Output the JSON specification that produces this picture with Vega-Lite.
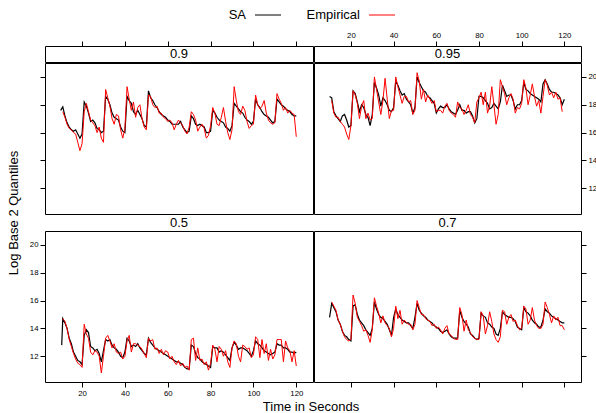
{
"$schema": "https://vega.github.io/schema/vega-lite/v6.json",
"padding": {"left": 0, "top": 0, "right": 0, "bottom": 0},
"config": {
  "font": "Liberation Sans",
  "view": {"stroke": "black", "strokeWidth": 1},
  "axis": {"domain": false, "grid": false, "tickColor": "black", "tickSize": 5, "labelFontSize": 7.8, "labelColor": "black", "labelPadding": 2},
  "concat": {"spacing": 0},
  "line": {"strokeWidth": 1}
},
"datasets": {"d": [
{"q":"0.9","t":10,"SA":17.6},{"q":"0.9","t":11,"SA":17.85,"Empirical":17.5},{"q":"0.9","t":12,"SA":17.2,"Empirical":17.1},{"q":"0.9","t":13,"SA":16.7,"Empirical":16.6},{"q":"0.9","t":14,"SA":16.4,"Empirical":16.3},{"q":"0.9","t":15,"SA":16.2,"Empirical":16.2},{"q":"0.9","t":16,"SA":16.1,"Empirical":16.0},{"q":"0.9","t":17,"SA":16.2,"Empirical":15.9},{"q":"0.9","t":18,"SA":15.9,"Empirical":15.3},{"q":"0.9","t":19,"SA":15.6,"Empirical":14.7},{"q":"0.9","t":20,"SA":15.9,"Empirical":15.2},
{"q":"0.9","t":21,"SA":18.2,"Empirical":17.5},{"q":"0.9","t":22,"SA":17.9,"Empirical":18.1},{"q":"0.9","t":23,"SA":17.4,"Empirical":17.5},{"q":"0.9","t":24,"SA":16.8,"Empirical":16.9},{"q":"0.9","t":25,"SA":16.9,"Empirical":16.7},{"q":"0.9","t":26,"SA":16.7,"Empirical":16.5},{"q":"0.9","t":27,"SA":16.3,"Empirical":16.0},{"q":"0.9","t":28,"SA":16.2,"Empirical":16.4},{"q":"0.9","t":29,"SA":16.0,"Empirical":15.6},{"q":"0.9","t":30,"SA":16.1,"Empirical":15.3},
{"q":"0.9","t":31,"SA":18.6,"Empirical":19.1},{"q":"0.9","t":32,"SA":18.4,"Empirical":18.5},{"q":"0.9","t":33,"SA":18.0,"Empirical":17.9},{"q":"0.9","t":34,"SA":17.4,"Empirical":17.0},{"q":"0.9","t":35,"SA":17.1,"Empirical":16.6},{"q":"0.9","t":36,"SA":17.0,"Empirical":17.3},{"q":"0.9","t":37,"SA":16.9,"Empirical":17.2},{"q":"0.9","t":38,"SA":16.4,"Empirical":16.2},{"q":"0.9","t":39,"SA":16.1,"Empirical":15.6},{"q":"0.9","t":40,"SA":16.0,"Empirical":16.3},
{"q":"0.9","t":41,"SA":18.6,"Empirical":19.3},{"q":"0.9","t":42,"SA":18.3,"Empirical":18.4},{"q":"0.9","t":43,"SA":18.1,"Empirical":17.6},{"q":"0.9","t":44,"SA":17.5,"Empirical":18.2},{"q":"0.9","t":45,"SA":17.3,"Empirical":17.1},{"q":"0.9","t":46,"SA":17.6,"Empirical":17.8},{"q":"0.9","t":47,"SA":17.3,"Empirical":18.0},{"q":"0.9","t":48,"SA":17.0,"Empirical":17.0},{"q":"0.9","t":49,"SA":16.5,"Empirical":16.4},{"q":"0.9","t":50,"SA":16.4,"Empirical":16.2},
{"q":"0.9","t":51,"SA":19.0,"Empirical":18.7},{"q":"0.9","t":52,"SA":18.5,"Empirical":18.6},{"q":"0.9","t":53,"SA":18.3,"Empirical":18.0},{"q":"0.9","t":54,"SA":18.0,"Empirical":17.8},{"q":"0.9","t":55,"SA":17.8,"Empirical":17.9},{"q":"0.9","t":56,"SA":17.5,"Empirical":17.4},{"q":"0.9","t":57,"SA":17.3,"Empirical":17.4},{"q":"0.9","t":58,"SA":17.2,"Empirical":17.1},{"q":"0.9","t":59,"SA":17.1,"Empirical":17.0},{"q":"0.9","t":60,"SA":16.9,"Empirical":16.8},
{"q":"0.9","t":61,"SA":16.8,"Empirical":16.9},{"q":"0.9","t":62,"SA":16.6,"Empirical":16.7},{"q":"0.9","t":63,"SA":16.6,"Empirical":16.2},{"q":"0.9","t":64,"SA":16.6,"Empirical":16.6},{"q":"0.9","t":65,"SA":16.6,"Empirical":16.9},{"q":"0.9","t":66,"SA":16.8,"Empirical":16.7},{"q":"0.9","t":67,"SA":16.4,"Empirical":16.5},{"q":"0.9","t":68,"SA":16.2,"Empirical":16.1},{"q":"0.9","t":69,"SA":16.0,"Empirical":15.9},{"q":"0.9","t":70,"SA":16.1,"Empirical":16.4},
{"q":"0.9","t":71,"SA":17.2,"Empirical":17.5},{"q":"0.9","t":72,"SA":17.0,"Empirical":17.3},{"q":"0.9","t":73,"SA":16.6,"Empirical":16.9},{"q":"0.9","t":74,"SA":16.5,"Empirical":16.1},{"q":"0.9","t":75,"SA":16.6,"Empirical":16.4},{"q":"0.9","t":76,"SA":16.5,"Empirical":16.6},{"q":"0.9","t":77,"SA":16.4,"Empirical":16.3},{"q":"0.9","t":78,"SA":16.0,"Empirical":15.6},{"q":"0.9","t":79,"SA":16.0,"Empirical":15.8},{"q":"0.9","t":80,"SA":16.1,"Empirical":16.5},
{"q":"0.9","t":81,"SA":17.6,"Empirical":17.8},{"q":"0.9","t":82,"SA":17.4,"Empirical":17.4},{"q":"0.9","t":83,"SA":17.1,"Empirical":16.6},{"q":"0.9","t":84,"SA":16.9,"Empirical":16.5},{"q":"0.9","t":85,"SA":16.8,"Empirical":17.1},{"q":"0.9","t":86,"SA":16.7,"Empirical":17.8},{"q":"0.9","t":87,"SA":16.4,"Empirical":16.8},{"q":"0.9","t":88,"SA":16.3,"Empirical":16.0},{"q":"0.9","t":89,"SA":16.1,"Empirical":15.5},{"q":"0.9","t":90,"SA":16.5,"Empirical":16.2},
{"q":"0.9","t":91,"SA":18.1,"Empirical":19.3},{"q":"0.9","t":92,"SA":17.9,"Empirical":18.3},{"q":"0.9","t":93,"SA":17.7,"Empirical":17.5},{"q":"0.9","t":94,"SA":17.5,"Empirical":17.3},{"q":"0.9","t":95,"SA":17.4,"Empirical":17.9},{"q":"0.9","t":96,"SA":17.1,"Empirical":17.6},{"q":"0.9","t":97,"SA":16.9,"Empirical":16.8},{"q":"0.9","t":98,"SA":16.8,"Empirical":16.3},{"q":"0.9","t":99,"SA":16.6,"Empirical":16.5},{"q":"0.9","t":100,"SA":16.8,"Empirical":16.6},
{"q":"0.9","t":101,"SA":18.4,"Empirical":18.7},{"q":"0.9","t":102,"SA":18.0,"Empirical":18.0},{"q":"0.9","t":103,"SA":17.8,"Empirical":17.7},{"q":"0.9","t":104,"SA":17.5,"Empirical":17.9},{"q":"0.9","t":105,"SA":17.3,"Empirical":18.3},{"q":"0.9","t":106,"SA":17.2,"Empirical":17.4},{"q":"0.9","t":107,"SA":17.1,"Empirical":16.9},{"q":"0.9","t":108,"SA":16.9,"Empirical":16.7},{"q":"0.9","t":109,"SA":16.7,"Empirical":16.6},{"q":"0.9","t":110,"SA":16.8,"Empirical":16.7},
{"q":"0.9","t":111,"SA":18.4,"Empirical":18.8},{"q":"0.9","t":112,"SA":18.2,"Empirical":18.4},{"q":"0.9","t":113,"SA":18.0,"Empirical":18.1},{"q":"0.9","t":114,"SA":17.9,"Empirical":17.6},{"q":"0.9","t":115,"SA":17.7,"Empirical":17.8},{"q":"0.9","t":116,"SA":17.6,"Empirical":17.4},{"q":"0.9","t":117,"SA":17.5,"Empirical":17.6},{"q":"0.9","t":118,"SA":17.3,"Empirical":17.4},{"q":"0.9","t":119,"SA":17.2,"Empirical":17.3},{"q":"0.9","t":120,"SA":17.2,"Empirical":15.7},
{"q":"0.95","t":10,"SA":18.6},{"q":"0.95","t":11,"SA":18.5,"Empirical":18.3},{"q":"0.95","t":12,"SA":17.5,"Empirical":17.4},{"q":"0.95","t":13,"SA":17.2,"Empirical":17.1},{"q":"0.95","t":14,"SA":17.0,"Empirical":17.1},{"q":"0.95","t":15,"SA":16.8,"Empirical":16.8},{"q":"0.95","t":16,"SA":17.2,"Empirical":16.6},{"q":"0.95","t":17,"SA":17.3,"Empirical":16.4},{"q":"0.95","t":18,"SA":16.9,"Empirical":15.9},{"q":"0.95","t":19,"SA":16.4,"Empirical":15.5},{"q":"0.95","t":20,"SA":16.5,"Empirical":16.5},
{"q":"0.95","t":21,"SA":19.0,"Empirical":19.0},{"q":"0.95","t":22,"SA":18.8,"Empirical":18.7},{"q":"0.95","t":23,"SA":18.2,"Empirical":18.1},{"q":"0.95","t":24,"SA":17.5,"Empirical":17.0},{"q":"0.95","t":25,"SA":18.0,"Empirical":17.9},{"q":"0.95","t":26,"SA":17.8,"Empirical":18.3},{"q":"0.95","t":27,"SA":17.3,"Empirical":17.0},{"q":"0.95","t":28,"SA":17.1,"Empirical":17.4},{"q":"0.95","t":29,"SA":16.5,"Empirical":16.9},{"q":"0.95","t":30,"SA":17.3,"Empirical":17.0},
{"q":"0.95","t":31,"SA":19.6,"Empirical":20.0},{"q":"0.95","t":32,"SA":19.2,"Empirical":19.1},{"q":"0.95","t":33,"SA":18.7,"Empirical":18.2},{"q":"0.95","t":34,"SA":17.9,"Empirical":17.3},{"q":"0.95","t":35,"SA":18.5,"Empirical":18.3},{"q":"0.95","t":36,"SA":18.3,"Empirical":19.9},{"q":"0.95","t":37,"SA":18.0,"Empirical":18.4},{"q":"0.95","t":38,"SA":17.6,"Empirical":17.0},{"q":"0.95","t":39,"SA":17.5,"Empirical":17.6},{"q":"0.95","t":40,"SA":17.8,"Empirical":17.6},
{"q":"0.95","t":41,"SA":19.7,"Empirical":20.0},{"q":"0.95","t":42,"SA":19.4,"Empirical":19.3},{"q":"0.95","t":43,"SA":19.0,"Empirical":18.7},{"q":"0.95","t":44,"SA":18.7,"Empirical":18.1},{"q":"0.95","t":45,"SA":18.8,"Empirical":18.6},{"q":"0.95","t":46,"SA":18.4,"Empirical":18.6},{"q":"0.95","t":47,"SA":18.2,"Empirical":18.2},{"q":"0.95","t":48,"SA":18.0,"Empirical":18.3},{"q":"0.95","t":49,"SA":17.4,"Empirical":17.3},{"q":"0.95","t":50,"SA":17.8,"Empirical":17.6},
{"q":"0.95","t":51,"SA":20.0,"Empirical":20.3},{"q":"0.95","t":52,"SA":19.6,"Empirical":19.7},{"q":"0.95","t":53,"SA":19.3,"Empirical":18.4},{"q":"0.95","t":54,"SA":19.0,"Empirical":19.1},{"q":"0.95","t":55,"SA":18.9,"Empirical":18.2},{"q":"0.95","t":56,"SA":18.6,"Empirical":18.7},{"q":"0.95","t":57,"SA":18.5,"Empirical":18.4},{"q":"0.95","t":58,"SA":18.3,"Empirical":18.1},{"q":"0.95","t":59,"SA":18.1,"Empirical":18.3},{"q":"0.95","t":60,"SA":17.4,"Empirical":17.5},
{"q":"0.95","t":61,"SA":17.7,"Empirical":17.6},{"q":"0.95","t":62,"SA":17.9,"Empirical":17.6},{"q":"0.95","t":63,"SA":17.8,"Empirical":17.4},{"q":"0.95","t":64,"SA":17.8,"Empirical":17.9},{"q":"0.95","t":65,"SA":18.0,"Empirical":18.1},{"q":"0.95","t":66,"SA":17.7,"Empirical":17.6},{"q":"0.95","t":67,"SA":17.5,"Empirical":17.4},{"q":"0.95","t":68,"SA":17.4,"Empirical":17.3},{"q":"0.95","t":69,"SA":17.3,"Empirical":17.1},{"q":"0.95","t":70,"SA":17.6,"Empirical":18.2},
{"q":"0.95","t":71,"SA":18.0,"Empirical":17.8},{"q":"0.95","t":72,"SA":17.6,"Empirical":17.7},{"q":"0.95","t":73,"SA":17.6,"Empirical":17.3},{"q":"0.95","t":74,"SA":17.4,"Empirical":17.6},{"q":"0.95","t":75,"SA":17.5,"Empirical":18.0},{"q":"0.95","t":76,"SA":17.5,"Empirical":17.3},{"q":"0.95","t":77,"SA":17.2,"Empirical":17.1},{"q":"0.95","t":78,"SA":16.7,"Empirical":16.7},{"q":"0.95","t":79,"SA":17.0,"Empirical":18.2},{"q":"0.95","t":80,"SA":18.6,"Empirical":18.5},
{"q":"0.95","t":81,"SA":18.6,"Empirical":18.9},{"q":"0.95","t":82,"SA":18.5,"Empirical":18.0},{"q":"0.95","t":83,"SA":18.3,"Empirical":18.9},{"q":"0.95","t":84,"SA":18.1,"Empirical":17.4},{"q":"0.95","t":85,"SA":17.7,"Empirical":17.9},{"q":"0.95","t":86,"SA":17.8,"Empirical":19.3},{"q":"0.95","t":87,"SA":18.1,"Empirical":18.0},{"q":"0.95","t":88,"SA":17.9,"Empirical":16.6},{"q":"0.95","t":89,"SA":17.7,"Empirical":17.3},{"q":"0.95","t":90,"SA":18.2,"Empirical":19.8},
{"q":"0.95","t":91,"SA":19.4,"Empirical":19.3},{"q":"0.95","t":92,"SA":19.0,"Empirical":18.8},{"q":"0.95","t":93,"SA":18.6,"Empirical":18.0},{"q":"0.95","t":94,"SA":18.7,"Empirical":18.5},{"q":"0.95","t":95,"SA":18.7,"Empirical":18.8},{"q":"0.95","t":96,"SA":18.3,"Empirical":18.4},{"q":"0.95","t":97,"SA":17.7,"Empirical":17.4},{"q":"0.95","t":98,"SA":18.0,"Empirical":17.8},{"q":"0.95","t":99,"SA":18.0,"Empirical":17.7},{"q":"0.95","t":100,"SA":18.3,"Empirical":18.1},
{"q":"0.95","t":101,"SA":19.6,"Empirical":19.8},{"q":"0.95","t":102,"SA":19.1,"Empirical":19.2},{"q":"0.95","t":103,"SA":19.0,"Empirical":18.0},{"q":"0.95","t":104,"SA":18.8,"Empirical":18.7},{"q":"0.95","t":105,"SA":18.7,"Empirical":19.5},{"q":"0.95","t":106,"SA":18.6,"Empirical":18.6},{"q":"0.95","t":107,"SA":18.5,"Empirical":17.9},{"q":"0.95","t":108,"SA":18.4,"Empirical":18.3},{"q":"0.95","t":109,"SA":18.2,"Empirical":17.4},{"q":"0.95","t":110,"SA":19.5,"Empirical":18.6},
{"q":"0.95","t":111,"SA":19.8,"Empirical":19.8},{"q":"0.95","t":112,"SA":19.5,"Empirical":19.4},{"q":"0.95","t":113,"SA":19.1,"Empirical":18.7},{"q":"0.95","t":114,"SA":18.9,"Empirical":18.9},{"q":"0.95","t":115,"SA":18.9,"Empirical":18.5},{"q":"0.95","t":116,"SA":18.8,"Empirical":18.9},{"q":"0.95","t":117,"SA":18.7,"Empirical":18.4},{"q":"0.95","t":118,"SA":18.5,"Empirical":18.5},{"q":"0.95","t":119,"SA":18.0,"Empirical":17.5},{"q":"0.95","t":120,"SA":18.4},
{"q":"0.5","t":10.5,"SA":12.8},{"q":"0.5","t":11,"SA":14.7,"Empirical":14.7},{"q":"0.5","t":12,"SA":14.4,"Empirical":14.5},{"q":"0.5","t":13,"SA":14.0,"Empirical":14.0},{"q":"0.5","t":14,"SA":13.3,"Empirical":13.2},{"q":"0.5","t":15,"SA":12.9,"Empirical":12.7},{"q":"0.5","t":16,"SA":12.3,"Empirical":12.2},{"q":"0.5","t":17,"SA":12.0,"Empirical":11.8},{"q":"0.5","t":18,"SA":11.7,"Empirical":11.5},{"q":"0.5","t":19,"SA":11.6,"Empirical":11.4},{"q":"0.5","t":20,"SA":11.4,"Empirical":11.2},
{"q":"0.5","t":21,"SA":13.5,"Empirical":14.3},{"q":"0.5","t":22,"SA":13.9,"Empirical":13.6},{"q":"0.5","t":23,"SA":13.7,"Empirical":13.3},{"q":"0.5","t":24,"SA":12.7,"Empirical":12.3},{"q":"0.5","t":25,"SA":12.6,"Empirical":12.1},{"q":"0.5","t":26,"SA":12.4,"Empirical":12.4},{"q":"0.5","t":27,"SA":12.5,"Empirical":12.3},{"q":"0.5","t":28,"SA":12.2,"Empirical":12.0},{"q":"0.5","t":29,"SA":11.6,"Empirical":10.8},{"q":"0.5","t":30,"SA":12.4,"Empirical":12.0},
{"q":"0.5","t":31,"SA":13.2,"Empirical":13.3},{"q":"0.5","t":32,"SA":13.1,"Empirical":13.5},{"q":"0.5","t":33,"SA":13.2,"Empirical":13.1},{"q":"0.5","t":34,"SA":12.8,"Empirical":12.6},{"q":"0.5","t":35,"SA":12.6,"Empirical":12.9},{"q":"0.5","t":36,"SA":12.5,"Empirical":12.3},{"q":"0.5","t":37,"SA":12.3,"Empirical":12.2},{"q":"0.5","t":38,"SA":12.0,"Empirical":12.3},{"q":"0.5","t":39,"SA":11.9,"Empirical":11.8},{"q":"0.5","t":40,"SA":12.3,"Empirical":12.0},
{"q":"0.5","t":41,"SA":13.3,"Empirical":13.1},{"q":"0.5","t":42,"SA":13.1,"Empirical":13.5},{"q":"0.5","t":43,"SA":12.7,"Empirical":12.3},{"q":"0.5","t":44,"SA":12.8,"Empirical":12.9},{"q":"0.5","t":45,"SA":12.7,"Empirical":12.9},{"q":"0.5","t":46,"SA":12.9,"Empirical":12.8},{"q":"0.5","t":47,"SA":12.6,"Empirical":12.7},{"q":"0.5","t":48,"SA":12.4,"Empirical":12.5},{"q":"0.5","t":49,"SA":12.2,"Empirical":12.2},{"q":"0.5","t":50,"SA":12.1,"Empirical":11.9},
{"q":"0.5","t":51,"SA":13.3,"Empirical":13.3},{"q":"0.5","t":52,"SA":13.0,"Empirical":13.1},{"q":"0.5","t":53,"SA":12.8,"Empirical":13.2},{"q":"0.5","t":54,"SA":12.6,"Empirical":12.5},{"q":"0.5","t":55,"SA":12.5,"Empirical":12.6},{"q":"0.5","t":56,"SA":12.4,"Empirical":12.2},{"q":"0.5","t":57,"SA":12.3,"Empirical":12.5},{"q":"0.5","t":58,"SA":12.2,"Empirical":12.1},{"q":"0.5","t":59,"SA":12.1,"Empirical":12.4},{"q":"0.5","t":60,"SA":12.0,"Empirical":12.3},
{"q":"0.5","t":61,"SA":11.9,"Empirical":11.8},{"q":"0.5","t":62,"SA":11.8,"Empirical":12.0},{"q":"0.5","t":63,"SA":11.7,"Empirical":11.6},{"q":"0.5","t":64,"SA":11.6,"Empirical":11.4},{"q":"0.5","t":65,"SA":11.6,"Empirical":11.7},{"q":"0.5","t":66,"SA":11.5,"Empirical":11.3},{"q":"0.5","t":67,"SA":11.4,"Empirical":11.5},{"q":"0.5","t":68,"SA":11.2,"Empirical":11.2},{"q":"0.5","t":69,"SA":11.1,"Empirical":11.3},{"q":"0.5","t":70,"SA":11.1,"Empirical":11.0},
{"q":"0.5","t":71,"SA":12.8,"Empirical":13.2},{"q":"0.5","t":72,"SA":12.7,"Empirical":13.3},{"q":"0.5","t":73,"SA":12.2,"Empirical":11.7},{"q":"0.5","t":74,"SA":11.9,"Empirical":12.6},{"q":"0.5","t":75,"SA":11.8,"Empirical":11.7},{"q":"0.5","t":76,"SA":11.6,"Empirical":11.8},{"q":"0.5","t":77,"SA":11.5,"Empirical":11.4},{"q":"0.5","t":78,"SA":11.4,"Empirical":11.6},{"q":"0.5","t":79,"SA":11.3,"Empirical":11.0},{"q":"0.5","t":80,"SA":11.2,"Empirical":11.5},
{"q":"0.5","t":81,"SA":12.7,"Empirical":12.8},{"q":"0.5","t":82,"SA":12.6,"Empirical":12.5},{"q":"0.5","t":83,"SA":12.6,"Empirical":11.6},{"q":"0.5","t":84,"SA":12.3,"Empirical":12.7},{"q":"0.5","t":85,"SA":12.4,"Empirical":12.5},{"q":"0.5","t":86,"SA":12.3,"Empirical":12.0},{"q":"0.5","t":87,"SA":12.1,"Empirical":12.4},{"q":"0.5","t":88,"SA":11.9,"Empirical":11.6},{"q":"0.5","t":89,"SA":11.7,"Empirical":11.2},{"q":"0.5","t":90,"SA":12.6,"Empirical":12.6},
{"q":"0.5","t":91,"SA":13.0,"Empirical":13.1},{"q":"0.5","t":92,"SA":12.8,"Empirical":12.9},{"q":"0.5","t":93,"SA":12.5,"Empirical":12.0},{"q":"0.5","t":94,"SA":12.6,"Empirical":11.6},{"q":"0.5","t":95,"SA":12.6,"Empirical":12.8},{"q":"0.5","t":96,"SA":12.5,"Empirical":12.7},{"q":"0.5","t":97,"SA":12.4,"Empirical":12.5},{"q":"0.5","t":98,"SA":12.2,"Empirical":12.6},{"q":"0.5","t":99,"SA":12.0,"Empirical":11.9},{"q":"0.5","t":100,"SA":12.4,"Empirical":12.1},
{"q":"0.5","t":101,"SA":13.1,"Empirical":13.4},{"q":"0.5","t":102,"SA":12.9,"Empirical":13.2},{"q":"0.5","t":103,"SA":12.8,"Empirical":11.9},{"q":"0.5","t":104,"SA":12.6,"Empirical":13.2},{"q":"0.5","t":105,"SA":12.4,"Empirical":12.2},{"q":"0.5","t":106,"SA":12.3,"Empirical":12.9},{"q":"0.5","t":107,"SA":12.2,"Empirical":11.7},{"q":"0.5","t":108,"SA":12.1,"Empirical":12.5},{"q":"0.5","t":109,"SA":12.2,"Empirical":11.8},{"q":"0.5","t":110,"SA":12.3,"Empirical":12.1},
{"q":"0.5","t":111,"SA":12.9,"Empirical":13.2},{"q":"0.5","t":112,"SA":12.8,"Empirical":13.2},{"q":"0.5","t":113,"SA":12.8,"Empirical":13.2},{"q":"0.5","t":114,"SA":12.6,"Empirical":11.6},{"q":"0.5","t":115,"SA":12.6,"Empirical":13.1},{"q":"0.5","t":116,"SA":12.5,"Empirical":12.6},{"q":"0.5","t":117,"SA":12.3,"Empirical":12.4},{"q":"0.5","t":118,"SA":12.3,"Empirical":11.6},{"q":"0.5","t":119,"SA":12.2,"Empirical":12.4},{"q":"0.5","t":120,"SA":12.3,"Empirical":11.3},
{"q":"0.7","t":10,"SA":14.8},{"q":"0.7","t":11,"SA":15.8,"Empirical":15.9},{"q":"0.7","t":12,"SA":15.5,"Empirical":15.6},{"q":"0.7","t":13,"SA":15.2,"Empirical":15.3},{"q":"0.7","t":14,"SA":14.6,"Empirical":14.6},{"q":"0.7","t":15,"SA":14.3,"Empirical":14.3},{"q":"0.7","t":16,"SA":13.8,"Empirical":13.8},{"q":"0.7","t":17,"SA":13.5,"Empirical":13.4},{"q":"0.7","t":18,"SA":13.4,"Empirical":13.2},{"q":"0.7","t":19,"SA":13.2,"Empirical":13.1},{"q":"0.7","t":20,"SA":13.1,"Empirical":13.2},
{"q":"0.7","t":21,"SA":15.6,"Empirical":16.4},{"q":"0.7","t":22,"SA":15.7,"Empirical":15.8},{"q":"0.7","t":23,"SA":15.0,"Empirical":14.8},{"q":"0.7","t":24,"SA":14.6,"Empirical":14.5},{"q":"0.7","t":25,"SA":14.4,"Empirical":14.2},{"q":"0.7","t":26,"SA":14.2,"Empirical":13.8},{"q":"0.7","t":27,"SA":13.9,"Empirical":13.9},{"q":"0.7","t":28,"SA":13.7,"Empirical":13.5},{"q":"0.7","t":29,"SA":13.5,"Empirical":13.0},{"q":"0.7","t":30,"SA":14.0,"Empirical":13.9},
{"q":"0.7","t":31,"SA":15.9,"Empirical":16.2},{"q":"0.7","t":32,"SA":15.4,"Empirical":15.6},{"q":"0.7","t":33,"SA":15.0,"Empirical":15.1},{"q":"0.7","t":34,"SA":14.8,"Empirical":14.4},{"q":"0.7","t":35,"SA":14.7,"Empirical":14.9},{"q":"0.7","t":36,"SA":14.5,"Empirical":14.4},{"q":"0.7","t":37,"SA":14.3,"Empirical":14.2},{"q":"0.7","t":38,"SA":13.9,"Empirical":14.0},{"q":"0.7","t":39,"SA":13.5,"Empirical":13.4},{"q":"0.7","t":40,"SA":14.8,"Empirical":14.0},
{"q":"0.7","t":41,"SA":15.4,"Empirical":15.6},{"q":"0.7","t":42,"SA":15.0,"Empirical":14.7},{"q":"0.7","t":43,"SA":14.8,"Empirical":15.3},{"q":"0.7","t":44,"SA":14.6,"Empirical":14.3},{"q":"0.7","t":45,"SA":14.5,"Empirical":14.6},{"q":"0.7","t":46,"SA":14.4,"Empirical":14.4},{"q":"0.7","t":47,"SA":14.4,"Empirical":14.3},{"q":"0.7","t":48,"SA":14.2,"Empirical":14.3},{"q":"0.7","t":49,"SA":14.0,"Empirical":13.9},{"q":"0.7","t":50,"SA":14.8,"Empirical":14.3},
{"q":"0.7","t":51,"SA":15.8,"Empirical":16.0},{"q":"0.7","t":52,"SA":15.3,"Empirical":15.5},{"q":"0.7","t":53,"SA":15.1,"Empirical":15.0},{"q":"0.7","t":54,"SA":14.9,"Empirical":15.0},{"q":"0.7","t":55,"SA":14.8,"Empirical":14.7},{"q":"0.7","t":56,"SA":14.6,"Empirical":14.6},{"q":"0.7","t":57,"SA":14.5,"Empirical":14.5},{"q":"0.7","t":58,"SA":14.4,"Empirical":14.2},{"q":"0.7","t":59,"SA":14.2,"Empirical":14.3},{"q":"0.7","t":60,"SA":14.1,"Empirical":14.0},
{"q":"0.7","t":61,"SA":14.0,"Empirical":14.1},{"q":"0.7","t":62,"SA":13.8,"Empirical":13.9},{"q":"0.7","t":63,"SA":13.7,"Empirical":13.6},{"q":"0.7","t":64,"SA":13.8,"Empirical":14.0},{"q":"0.7","t":65,"SA":13.9,"Empirical":14.2},{"q":"0.7","t":66,"SA":13.6,"Empirical":13.6},{"q":"0.7","t":67,"SA":13.4,"Empirical":13.5},{"q":"0.7","t":68,"SA":13.3,"Empirical":13.3},{"q":"0.7","t":69,"SA":13.3,"Empirical":13.2},{"q":"0.7","t":70,"SA":13.3,"Empirical":13.2},
{"q":"0.7","t":71,"SA":15.3,"Empirical":15.5},{"q":"0.7","t":72,"SA":14.8,"Empirical":15.0},{"q":"0.7","t":73,"SA":14.5,"Empirical":13.8},{"q":"0.7","t":74,"SA":14.3,"Empirical":14.6},{"q":"0.7","t":75,"SA":14.1,"Empirical":13.9},{"q":"0.7","t":76,"SA":13.6,"Empirical":13.7},{"q":"0.7","t":77,"SA":13.5,"Empirical":13.4},{"q":"0.7","t":78,"SA":13.3,"Empirical":13.3},{"q":"0.7","t":79,"SA":13.2,"Empirical":13.2},{"q":"0.7","t":80,"SA":13.3,"Empirical":13.2},
{"q":"0.7","t":81,"SA":15.1,"Empirical":15.2},{"q":"0.7","t":82,"SA":14.9,"Empirical":14.9},{"q":"0.7","t":83,"SA":14.8,"Empirical":13.6},{"q":"0.7","t":84,"SA":14.4,"Empirical":14.2},{"q":"0.7","t":85,"SA":14.3,"Empirical":15.2},{"q":"0.7","t":86,"SA":14.1,"Empirical":14.5},{"q":"0.7","t":87,"SA":14.0,"Empirical":13.6},{"q":"0.7","t":88,"SA":13.6,"Empirical":13.2},{"q":"0.7","t":89,"SA":13.5,"Empirical":13.0},{"q":"0.7","t":90,"SA":14.0,"Empirical":13.4},
{"q":"0.7","t":91,"SA":15.2,"Empirical":15.3},{"q":"0.7","t":92,"SA":15.0,"Empirical":15.2},{"q":"0.7","t":93,"SA":14.9,"Empirical":14.3},{"q":"0.7","t":94,"SA":14.8,"Empirical":14.8},{"q":"0.7","t":95,"SA":14.8,"Empirical":15.0},{"q":"0.7","t":96,"SA":14.7,"Empirical":14.5},{"q":"0.7","t":97,"SA":14.5,"Empirical":14.6},{"q":"0.7","t":98,"SA":14.1,"Empirical":14.2},{"q":"0.7","t":99,"SA":14.0,"Empirical":13.9},{"q":"0.7","t":100,"SA":13.9,"Empirical":14.0},
{"q":"0.7","t":101,"SA":15.5,"Empirical":15.6},{"q":"0.7","t":102,"SA":15.2,"Empirical":15.4},{"q":"0.7","t":103,"SA":15.1,"Empirical":14.3},{"q":"0.7","t":104,"SA":14.9,"Empirical":14.6},{"q":"0.7","t":105,"SA":14.6,"Empirical":15.5},{"q":"0.7","t":106,"SA":14.4,"Empirical":14.6},{"q":"0.7","t":107,"SA":14.3,"Empirical":14.2},{"q":"0.7","t":108,"SA":14.1,"Empirical":14.0},{"q":"0.7","t":109,"SA":14.1,"Empirical":14.0},{"q":"0.7","t":110,"SA":14.6,"Empirical":14.3},
{"q":"0.7","t":111,"SA":15.4,"Empirical":15.9},{"q":"0.7","t":112,"SA":15.2,"Empirical":15.5},{"q":"0.7","t":113,"SA":15.1,"Empirical":15.0},{"q":"0.7","t":114,"SA":14.9,"Empirical":14.4},{"q":"0.7","t":115,"SA":14.8,"Empirical":14.9},{"q":"0.7","t":116,"SA":14.7,"Empirical":14.6},{"q":"0.7","t":117,"SA":14.6,"Empirical":14.8},{"q":"0.7","t":118,"SA":14.5,"Empirical":14.2},{"q":"0.7","t":119,"SA":14.4,"Empirical":14.2},{"q":"0.7","t":120,"SA":14.4,"Empirical":13.9}
]},
"spacing": 0,
"vconcat": [
  {"width": 606, "height": 30, "view": {"stroke": null},
   "data": {"values": [{"s": "SA"}, {"s": "Empirical"}]},
   "layer": [
     {"mark": {"type": "text", "align": "right", "baseline": "middle", "fontSize": 13},
      "encoding": {"x": {"field": "s", "type": "nominal", "scale": {"type": "point", "domain": ["SA", "Empirical"], "range": [246, 360], "padding": 0}, "axis": null}, "text": {"field": "s"}}},
     {"mark": {"type": "point", "shape": "M0,0H2", "size": 676, "xOffset": 9, "filled": false, "opacity": 1, "strokeWidth": 1},
      "encoding": {"x": {"field": "s", "type": "nominal"}, "color": {"field": "s", "type": "nominal", "scale": {"domain": ["SA", "Empirical"], "range": ["black", "red"]}, "legend": null}}}
   ]},
  {"spacing": 0, "hconcat": [
    {"width": 28, "height": 334, "view": {"stroke": null},
     "data": {"values": [{"title": "Log Base 2 Quantiles"}]},
     "mark": {"type": "text", "angle": 270, "baseline": "middle", "fontSize": 13},
     "encoding": {"text": {"field": "title"}}},
    {"spacing": -2, "vconcat": [
      {"spacing": -2, "hconcat": [
        {"spacing": -2, "vconcat": [
          {"width": 268, "height": 16, "layer": [
            {"data": {"name": "d"}, "transform": [{"filter": {"field": "q", "equal": "0.9"}}], "mark": {"type": "rule", "opacity": 0},
             "encoding": {"x": {"field": "t", "type": "quantitative", "scale": {"domain": [2.7, 127.8], "nice": false, "zero": false}, "axis": {"orient": "top", "values": [20, 40, 60, 80, 100, 120], "labels": false, "title": null}}}},
            {"data": {"values": [{"label": "0.9"}]}, "mark": {"type": "text", "baseline": "middle", "fontSize": 13}, "encoding": {"text": {"field": "label"}}}
          ]},
          {"width": 268, "height": 151, "data": {"name": "d"}, "transform": [{"filter": {"field": "q", "equal": "0.9"}}],
           "encoding": {"x": {"field": "t", "type": "quantitative", "scale": {"domain": [2.7, 127.8], "nice": false, "zero": false}, "axis": null}},
           "layer": [
             {"mark": {"type": "line", "strokeWidth": 1.2}, "encoding": {"y": {"field": "SA", "type": "quantitative", "scale": {"domain": [10.15, 21], "nice": false, "zero": false}, "axis": {"orient": "left", "values": [12, 14, 16, 18, 20], "labels": false, "title": null}}, "color": {"datum": "SA", "scale": {"domain": ["SA", "Empirical"], "range": ["black", "red"]}, "legend": null}}},
             {"mark": "line", "encoding": {"y": {"field": "Empirical", "type": "quantitative", "scale": {"domain": [10.15, 21], "nice": false, "zero": false}, "axis": {"orient": "left", "values": [12, 14, 16, 18, 20], "labels": false, "title": null}}, "color": {"datum": "Empirical", "legend": null}}}
           ]}
        ]},
        {"spacing": -2, "vconcat": [
          {"width": 267, "height": 16, "layer": [
            {"data": {"name": "d"}, "transform": [{"filter": {"field": "q", "equal": "0.95"}}], "mark": {"type": "rule", "opacity": 0},
             "encoding": {"x": {"field": "t", "type": "quantitative", "scale": {"domain": [2.7, 127.8], "nice": false, "zero": false}, "axis": {"orient": "top", "values": [20, 40, 60, 80, 100, 120], "title": null}}}},
            {"data": {"values": [{"label": "0.95"}]}, "mark": {"type": "text", "baseline": "middle", "fontSize": 13}, "encoding": {"text": {"field": "label"}}}
          ]},
          {"width": 267, "height": 151, "data": {"name": "d"}, "transform": [{"filter": {"field": "q", "equal": "0.95"}}],
           "encoding": {"x": {"field": "t", "type": "quantitative", "scale": {"domain": [2.7, 127.8], "nice": false, "zero": false}, "axis": null}},
           "layer": [
             {"mark": {"type": "line", "strokeWidth": 1.2}, "encoding": {"y": {"field": "SA", "type": "quantitative", "scale": {"domain": [10.15, 21], "nice": false, "zero": false}, "axis": {"orient": "right", "values": [12, 14, 16, 18, 20], "title": null}}, "color": {"datum": "SA", "scale": {"domain": ["SA", "Empirical"], "range": ["black", "red"]}, "legend": null}}},
             {"mark": "line", "encoding": {"y": {"field": "Empirical", "type": "quantitative", "scale": {"domain": [10.15, 21], "nice": false, "zero": false}, "axis": {"orient": "right", "values": [12, 14, 16, 18, 20], "title": null}}, "color": {"datum": "Empirical", "legend": null}}}
           ]}
        ]}
      ]},
      {"spacing": -2, "hconcat": [
        {"spacing": -2, "vconcat": [
          {"width": 268, "height": 16, "data": {"values": [{"label": "0.5"}]}, "mark": {"type": "text", "baseline": "middle", "fontSize": 13}, "encoding": {"text": {"field": "label"}}},
          {"width": 268, "height": 151, "data": {"name": "d"}, "transform": [{"filter": {"field": "q", "equal": "0.5"}}],
           "encoding": {"x": {"field": "t", "type": "quantitative", "scale": {"domain": [2.7, 127.8], "nice": false, "zero": false}, "axis": {"orient": "bottom", "values": [20, 40, 60, 80, 100, 120], "title": null}}},
           "layer": [
             {"mark": {"type": "line", "strokeWidth": 1.2}, "encoding": {"y": {"field": "SA", "type": "quantitative", "scale": {"domain": [10.15, 21], "nice": false, "zero": false}, "axis": {"orient": "left", "values": [12, 14, 16, 18, 20], "title": null}}, "color": {"datum": "SA", "scale": {"domain": ["SA", "Empirical"], "range": ["black", "red"]}, "legend": null}}},
             {"mark": "line", "encoding": {"y": {"field": "Empirical", "type": "quantitative", "scale": {"domain": [10.15, 21], "nice": false, "zero": false}, "axis": {"orient": "left", "values": [12, 14, 16, 18, 20], "title": null}}, "color": {"datum": "Empirical", "legend": null}}}
           ]}
        ]},
        {"spacing": -2, "vconcat": [
          {"width": 267, "height": 16, "data": {"values": [{"label": "0.7"}]}, "mark": {"type": "text", "baseline": "middle", "fontSize": 13}, "encoding": {"text": {"field": "label"}}},
          {"width": 267, "height": 151, "data": {"name": "d"}, "transform": [{"filter": {"field": "q", "equal": "0.7"}}],
           "encoding": {"x": {"field": "t", "type": "quantitative", "scale": {"domain": [2.7, 127.8], "nice": false, "zero": false}, "axis": {"orient": "bottom", "values": [20, 40, 60, 80, 100, 120], "labels": false, "title": null}}},
           "layer": [
             {"mark": {"type": "line", "strokeWidth": 1.2}, "encoding": {"y": {"field": "SA", "type": "quantitative", "scale": {"domain": [10.15, 21], "nice": false, "zero": false}, "axis": {"orient": "right", "values": [12, 14, 16, 18, 20], "labels": false, "title": null}}, "color": {"datum": "SA", "scale": {"domain": ["SA", "Empirical"], "range": ["black", "red"]}, "legend": null}}},
             {"mark": "line", "encoding": {"y": {"field": "Empirical", "type": "quantitative", "scale": {"domain": [10.15, 21], "nice": false, "zero": false}, "axis": {"orient": "right", "values": [12, 14, 16, 18, 20], "labels": false, "title": null}}, "color": {"datum": "Empirical", "legend": null}}}
           ]}
        ]}
      ]}
    ]}
  ]},
  {"width": 622, "height": 18, "view": {"stroke": null},
   "data": {"values": [{"title": "Time in Seconds"}]},
   "mark": {"type": "text", "baseline": "middle", "fontSize": 13},
   "encoding": {"text": {"field": "title"}}}
]
}
